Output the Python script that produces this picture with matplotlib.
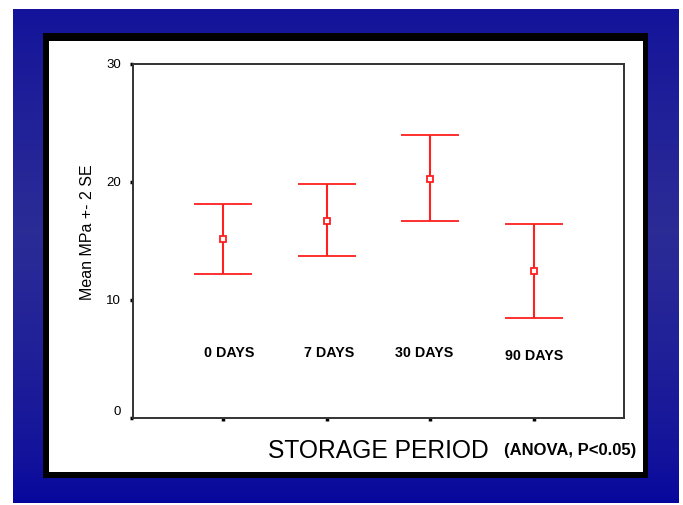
import numpy as np
import matplotlib.pyplot as plt
from matplotlib.patches import Rectangle

plt.rcParams['font.family'] = ['Liberation Sans', 'DejaVu Sans']

# storage groups and bond strength (mean +- 2 SE, MPa)
groups = ["0 DAYS", "7 DAYS", "30 DAYS", "90 DAYS"]
means = np.array([15.2, 16.7, 20.25, 12.5])
upper = np.array([18.1, 19.8, 24.0, 16.4])
lower = np.array([12.2, 13.75, 16.7, 8.5])

W, H = 683, 505
fig = plt.figure(figsize=(W / 100, H / 100), dpi=100)

# slide background: blue gradient, black framed white panel
bg = fig.add_axes([0, 0, 1, 1])
bg.set_xlim(0, W)
bg.set_ylim(H, 0)
bg.axis("off")
t = np.linspace(0, 1, 256)
k = np.clip(1 - np.abs(t - 0.45) / 0.55, 0, 1) ** 0.6
grad = np.zeros((256, 1, 3))
grad[:, 0, 0] = 0.02 + 0.15 * k
grad[:, 0, 1] = 0.02 + 0.15 * k
grad[:, 0, 2] = 0.62 - 0.03 * k
bg.imshow(grad, extent=(13, 679, 503, 9), aspect="auto", zorder=0)
bg.add_patch(Rectangle((43, 33), 605, 445, facecolor="black", zorder=1))
bg.add_patch(Rectangle((49, 41), 594, 431, facecolor="white", zorder=2))

ax = fig.add_axes([133 / W, 1 - 418 / H, (624 - 133) / W, (418 - 64) / H])
x = np.arange(1, len(groups) + 1)
ax.errorbar(x, means, yerr=[means - lower, upper - means], fmt="s",
            color="#ff2020", mfc="white", mec="#ff2020", ms=5, mew=1.3,
            elinewidth=1.5, capsize=20.9, capthick=1.5)

ax.set_xlim(0.13, 4.87)
ax.set_ylim(0, 30)
ax.set_yticks([0, 10, 20, 30])
ax.set_xticks(x)
ax.set_xticklabels([])
ax.tick_params(axis="both", length=2.5, width=2.5, color="black",
               labelsize=9.5, pad=6)
# the zero label sits a little above the axis line in the original
ax.get_yticklabels()[0].set_verticalalignment("bottom")
for s in ax.spines.values():
    s.set_color("#333333")
    s.set_linewidth(1.4)

label_dx = [0.06, 0.02, -0.06, 0.0]
label_y = [5.5, 5.5, 5.55, 5.25]
for xi, g, dx, yy in zip(x, groups, label_dx, label_y):
    ax.text(xi + dx, yy, g, ha="center", va="center", fontsize=10.3,
            fontweight="bold")

fig.text(87 / W, 1 - 232 / H, "Mean MPa +- 2 SE", rotation=90,
         ha="center", va="center", fontsize=11.5)
fig.text(378 / W, 1 - 451 / H, "STORAGE PERIOD", ha="center", va="center",
         fontsize=17.7)
fig.text(570 / W, 1 - 451 / H, "(ANOVA, P<0.05)", ha="center", va="center",
         fontsize=12, fontweight="bold")

fig.savefig("out.png", dpi=100)
